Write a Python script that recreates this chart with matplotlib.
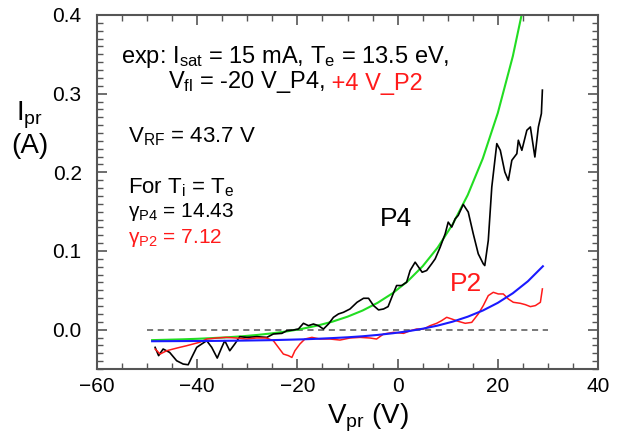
import matplotlib
matplotlib.use("Agg")
import matplotlib.pyplot as plt
from matplotlib.ticker import MultipleLocator

plt.rcParams['font.family'] = ['Liberation Sans', 'DejaVu Sans']
plt.rcParams['mathtext.fontset'] = 'custom'
plt.rcParams['mathtext.rm'] = 'Liberation Sans'
plt.rcParams['mathtext.it'] = 'Liberation Sans:italic'

# probe P4 trace (black), V_pr in V, I_pr in A
p4_v = [-48.4, -47.7, -46.8, -45.5, -44.1, -42.8, -41.8, -41.1, -40.1, -39.1,
        -38.1, -37.1, -36.0, -35.1, -34.5, -33.5, -32.5, -31.5, -30.1, -28.1,
        -26.1, -24.8, -23.1, -22.1, -20.8, -19.8, -18.8, -17.8, -16.8, -15.8,
        -14.8, -13.8, -12.8, -11.8, -10.8, -9.5, -8.1, -6.8, -5.8, -4.8,
        -3.8, -2.8, -1.9, -0.9, -0.2, 0.8, 1.8, 2.5, 3.5, 4.2,
        4.9, 5.8, 6.8, 7.5, 8.5, 9.5, 10.1, 10.8, 11.5, 12.1,
        13.1, 14.1, 15.1, 16.1, 17.1, 17.4, 18.1, 18.8, 19.8, 20.5,
        21.4, 22.1, 22.8, 23.8, 24.1, 24.8, 25.8, 26.5, 26.8, 27.4,
        28.1, 28.7, 28.9]
p4_i = [-0.0225, -0.033, -0.0246, -0.0289, -0.0395, -0.0437, -0.0446, -0.0353, -0.0225, -0.0182,
        -0.014, -0.0225, -0.0361, -0.0225, -0.014, -0.0268, -0.0182, -0.0089, -0.0098, -0.0089,
        -0.0098, -0.0055, -0.0047, -0.0013, -0.0004, 0.0008, 0.0081, 0.0051, 0.0072, 0.0051,
        0.0008, 0.0072, 0.0157, 0.0200, 0.0221, 0.0263, 0.0348, 0.0399, 0.0399, 0.0306,
        0.0251, 0.0263, 0.0293, 0.0454, 0.0561, 0.0561, 0.0603, 0.0752, 0.0858, 0.0794,
        0.0730, 0.0752, 0.0837, 0.0900, 0.1049, 0.1219, 0.1367, 0.1304, 0.1410, 0.1452,
        0.1592, 0.1495, 0.1219, 0.0964, 0.0837, 0.0815, 0.1134, 0.1813, 0.2365, 0.2280,
        0.2004, 0.1898, 0.2153, 0.2237, 0.2408, 0.2280, 0.2535, 0.2577, 0.2450, 0.2195,
        0.2577, 0.2747, 0.3045]

# probe P2 trace (red)
p2_v = [-48.4, -47.4, -46.1, -44.8, -43.5, -42.1, -40.8, -39.5, -38.1, -36.1,
        -34.2, -32.2, -30.2, -28.2, -26.2, -24.8, -23.8, -22.8, -21.8, -21.1,
        -20.5, -19.5, -18.5, -17.1, -15.5, -13.5, -11.5, -9.5, -7.5, -5.5,
        -4.2, -2.8, -0.8, 1.2, 2.5, 3.8, 5.2, 6.5, 7.8, 8.8,
        9.8, 10.8, 12.1, 13.5, 14.8, 16.1, 17.1, 18.1, 19.1, 20.1,
        21.1, 22.1, 23.1, 24.5, 25.5, 26.5, 27.5, 28.5, 28.9]
p2_i = [-0.0246, -0.031, -0.0268, -0.0246, -0.0225, -0.0204, -0.0182, -0.016, -0.0119, -0.0106,
        -0.0098, -0.0106, -0.0119, -0.0106, -0.0106, -0.014, -0.0225, -0.031, -0.033, -0.0353,
        -0.0268, -0.0182, -0.0119, -0.0098, -0.0119, -0.0119, -0.0132, -0.0106, -0.0098, -0.0106,
        -0.0119, -0.0055, -0.0034, -0.0047, -0.0013, 0.0008, 0.0008, 0.0051, 0.0081, 0.0115,
        0.0157, 0.0136, 0.0106, 0.0081, 0.0093, 0.0200, 0.0306, 0.0433, 0.0475, 0.0454,
        0.0454, 0.0390, 0.0348, 0.0335, 0.0318, 0.0293, 0.0306, 0.0348, 0.0518]

# exponential fits (green: P4, blue: P2)
fit_p4_v = [-49, -46, -43, -40, -37, -34, -31, -28, -25, -22, -19, -16, -13,
            -10, -7, -4, -1, 2, 5, 8, 11, 14, 17, 20, 23, 26]
fit_p4_i = [-0.0133, -0.0128, -0.0123, -0.0116, -0.0107, -0.0097, -0.0084, -0.0067, -0.0046,
            -0.0021, 0.0012, 0.0052, 0.0102, 0.0165, 0.0243, 0.0341, 0.0463, 0.0615,
            0.0806, 0.1044, 0.1341, 0.1712, 0.2175, 0.2754, 0.3476, 0.4377]
fit_p2_v = [-49, -46, -43, -40, -37, -34, -31, -28, -25, -22, -19, -16, -13, -10,
            -7, -4, -1, 2, 5, 8, 11, 14, 17, 20, 23, 26, 29]
fit_p2_i = [-0.0147, -0.0146, -0.0145, -0.0144, -0.0143, -0.0141, -0.0139, -0.0136, -0.0133,
            -0.0128, -0.0123, -0.0116, -0.0107, -0.0097, -0.0084, -0.0067, -0.0046, -0.0021,
            0.0012, 0.0052, 0.0102, 0.0165, 0.0243, 0.0341, 0.0463, 0.0615, 0.0806]

zero_line_v = [-50, 30]

fig = plt.figure(figsize=(6.22, 4.33), dpi=100)
ax = fig.add_axes([97/622, 1 - 369/433, 501/622, 354/433])

ax.plot(zero_line_v, [0, 0], color='#555555', lw=1.1, dashes=(4, 3))
ax.plot(fit_p4_v, fit_p4_i, color='#22dd22', lw=1.5)
ax.plot(p4_v, p4_i, color='black', lw=1.2)
ax.plot(p2_v, p2_i, color='#ff1a1a', lw=1.1)
ax.plot(fit_p2_v, fit_p2_i, color='#1a1aff', lw=1.5)

ax.set_xlim(-60, 40)
ax.set_ylim(-0.05, 0.4)
ax.xaxis.set_major_locator(MultipleLocator(20))
ax.xaxis.set_minor_locator(MultipleLocator(5))
ax.yaxis.set_major_locator(MultipleLocator(0.1))
ax.yaxis.set_minor_locator(MultipleLocator(0.01))
ax.yaxis.set_major_formatter(plt.FuncFormatter(lambda v, p: "%.1f" % v))
ax.tick_params(which='both', direction='in', top=True, right=True,
               color='#555555', labelsize=15)
ax.tick_params(which='major', length=7, width=1.2)
ax.tick_params(which='minor', length=4, width=1.0)
ax.tick_params(axis='x', pad=6)
ax.tick_params(axis='y', pad=11)
for s in ax.spines.values():
    s.set_color('#555555')
    s.set_linewidth(1.5)

ax.set_xlabel(r"V$_{\mathrm{pr}}$ (V)", fontsize=20)
ax.xaxis.set_label_coords(0.541, -0.092)
ax.set_ylabel("I$_{\\mathrm{pr}}$\n(A)", fontsize=20, rotation=0,
              ha='center', va='center', linespacing=1.1)
ax.yaxis.set_label_coords(-0.134, 0.678)

fs = 17
ax.text(-55.2, 0.3465, r"exp: I$_{\mathrm{sat}}$ = 15 mA, T$_{\mathrm{e}}$ = 13.5 eV,",
        fontsize=fs, va='center', ha='left')
t1 = ax.text(-45.8, 0.3146, r"V$_{\mathrm{fl}}$ = -20 V_P4,", fontsize=fs,
             va='center', ha='left')
ax.annotate(" +4 V_P2", xy=(1, 0), xycoords=t1, va='bottom', ha='left',
            fontsize=fs, color='#ff1a1a')
fs2 = 16
ax.text(-53.8, 0.245, r"V$_{\mathrm{RF}}$ = 43.7 V", fontsize=fs2, va='center', ha='left')
ax.text(-53.8, 0.181, r"For T$_{\mathrm{i}}$ = T$_{\mathrm{e}}$", fontsize=fs2,
        va='center', ha='left')
ax.text(-53.8, 0.149, "γ$_{\\mathrm{P4}}$ = 14.43", fontsize=15, va='center', ha='left')
ax.text(-53.8, 0.117, "γ$_{\\mathrm{P2}}$ = 7.12", fontsize=15, va='center', ha='left',
        color='#ff1a1a')
ax.text(-3.5, 0.141, "P4", fontsize=19, va='center', ha='left')
ax.text(10.5, 0.0586, "P2", fontsize=19, va='center', ha='left', color='#ff1a1a')

fig.savefig("out.png", dpi=100)
